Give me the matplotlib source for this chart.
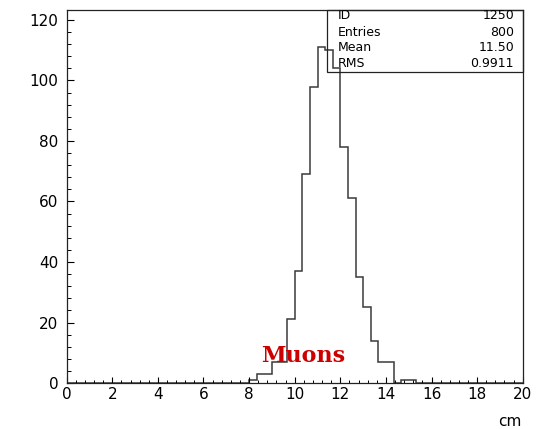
"""Muon track-length histogram in the ROOT/PAW style, with the stats box."""

import matplotlib

matplotlib.use("Agg")
import matplotlib.pyplot as plt
import numpy as np
from matplotlib.patches import Rectangle
from matplotlib.ticker import MultipleLocator

# histogram: 60 bins over 0..20 cm, only bins 24..45 are filled
n_bins = 60
x_range = (0, 20)
first_bin = 24
filled_counts = [1, 3, 3, 7, 7, 21, 37, 69, 98, 111, 110, 104,
                 78, 61, 35, 25, 14, 7, 7, 0, 1, 1]

stat_names = ["ID", "Entries", "Mean", "RMS"]
stat_values = ["1250", "800", "11.50", "0.9911"]

x_ticks = [0, 2, 4, 6, 8, 10, 12, 14, 16, 18, 20]
y_ticks = [0, 20, 40, 60, 80, 100, 120]

counts = np.zeros(n_bins)
counts[first_bin:first_bin + len(filled_counts)] = filled_counts
edges = np.linspace(x_range[0], x_range[1], n_bins + 1)

fig = plt.figure(figsize=(5.39, 4.29), dpi=100)
ax = fig.add_axes([0.1237, 0.1072, 0.8461, 0.8695])

ax.stairs(counts, edges, color="#3a3a3a", lw=1.1)

ax.set_xlim(*x_range)
ax.set_ylim(0, 123.3)
ax.set_xticks(x_ticks)
ax.set_yticks(y_ticks)
ax.xaxis.set_minor_locator(MultipleLocator(0.4))
ax.yaxis.set_minor_locator(MultipleLocator(4))
ax.tick_params(axis="x", which="major", direction="in", length=4, width=0.8,
               pad=3, labelsize=11)
ax.tick_params(axis="x", which="minor", direction="in", length=2.2, width=0.7)
ax.tick_params(axis="y", which="major", direction="in", length=5, width=0.8,
               pad=6, labelsize=11)
ax.tick_params(axis="y", which="minor", direction="in", length=3, width=0.7)
for sp in ax.spines.values():
    sp.set_linewidth(0.9)
    sp.set_color("#222222")

# stats box (top right, transparent so the peak shows through)
ax.add_patch(Rectangle((0.571, 0.8346), 0.429, 0.1654, transform=ax.transAxes,
                       fill=False, edgecolor="#222222", lw=0.9, zorder=3,
                       clip_on=False))
row_y = [0.9847, 0.941, 0.8984, 0.8555]
for name, val, y in zip(stat_names, stat_values, row_y):
    ax.text(0.595, y, name, transform=ax.transAxes, fontsize=9,
            ha="left", va="center")
    ax.text(0.981, y, val, transform=ax.transAxes, fontsize=9,
            ha="right", va="center")

ax.text(0.518, 0.072, "Muons", transform=ax.transAxes, color="#cc0000",
        fontsize=16, fontweight="bold", family="DejaVu Serif",
        ha="center", va="center")

fig.text(0.968, 0.0, "cm", fontsize=11, ha="right", va="bottom")

fig.savefig("out.png", dpi=100)
